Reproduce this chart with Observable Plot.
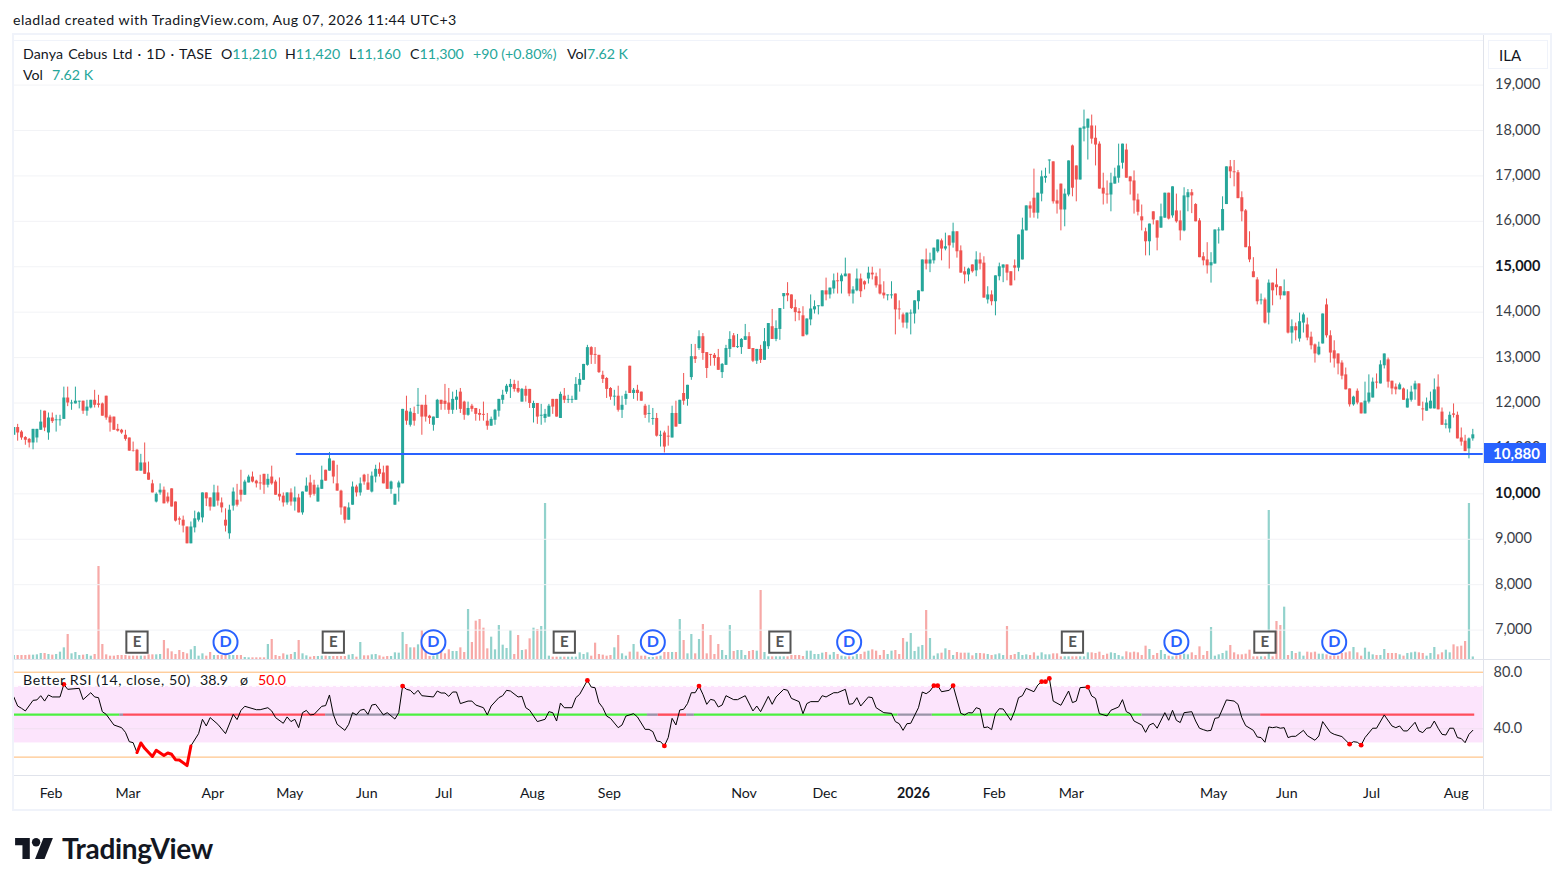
<!DOCTYPE html>
<html><head><meta charset="utf-8">
<script src="https://cdn.jsdelivr.net/npm/d3@7"></script>
<script src="https://cdn.jsdelivr.net/npm/@observablehq/plot@0.6"></script>
<style>
html,body{margin:0;padding:0;background:#fff;overflow:hidden}
body{width:1563px;height:885px;position:relative;font-family:Lato,"Noto Sans",sans-serif;color:#131722}
.layer{position:absolute;left:0;top:0}
.layer svg{display:block;background:transparent}
.t{position:absolute;white-space:nowrap;font-size:14.2px;line-height:18px}
.up{color:#26a69a}
.b{position:absolute;background:#e6e8ef}
</style></head><body>
<div id="vol" class="layer"></div>
<div id="main" class="layer"></div>
<div id="rsi" class="layer"></div>
<div class="b" style="left:13px;top:33px;width:1537px;height:2px;background:#f0f3fa"></div>
<div class="b" style="left:13px;top:40px;width:1471px;height:1px;background:#f0f3fa"></div>
<div class="b" style="left:12px;top:33px;width:2px;height:778px;background:#f0f3fa"></div>
<div class="b" style="left:1550px;top:33px;width:2px;height:778px;background:#f0f3fa"></div>
<div class="b" style="left:13px;top:809px;width:1537px;height:2px;background:#f0f3fa"></div>
<div class="b" style="left:1483px;top:35px;width:1px;height:774px;background:#e0e3eb"></div>
<div class="b" style="left:14px;top:659px;width:1536px;height:1px;background:#e0e3eb"></div>
<div class="b" style="left:14px;top:775px;width:1536px;height:1px;background:#e0e3eb"></div>
<div class="t" style="left:13px;top:11px;letter-spacing:.49px">eladlad created with TradingView.com, Aug 07, 2026 11:44 UTC+3</div>
<div class="t" style="left:23px;top:45px;letter-spacing:.1px;word-spacing:1.3px">Danya Cebus Ltd · 1D · TASE</div>
<div class="t" style="left:221px;top:45px">O<span class="up">11,210</span></div>
<div class="t" style="left:285px;top:45px">H<span class="up">11,420</span></div>
<div class="t" style="left:349px;top:45px">L<span class="up">11,160</span></div>
<div class="t" style="left:410px;top:45px">C<span class="up">11,300</span></div>
<div class="t up" style="left:473px;top:45px">+90 (+0.80%)</div>
<div class="t" style="left:567px;top:45px">Vol<span class="up">7.62 K</span></div>
<div class="t" style="left:23px;top:66px">Vol</div>
<div class="t up" style="left:52px;top:66px">7.62 K</div>
<div class="t" style="left:23px;top:671px;letter-spacing:.58px">Better RSI (14, close, 50)</div>
<div class="t" style="left:200px;top:671px">38.9</div>
<div class="t" style="left:240px;top:671px">ø</div>
<div class="t" style="left:258px;top:671px;color:#f00">50.0</div>
<div class="t" style="left:1488px;top:40px;width:60px;height:29px;box-sizing:border-box;border:1px solid #f0f3fa;line-height:28px;padding-left:10px;font-size:15px">ILA</div>
<div class="t" style="left:1484px;top:443px;width:62px;height:20px;background:#2962ff;color:#fff;line-height:20px;padding:0;text-align:center;font-size:15px;font-weight:700;text-indent:3px">10,880</div>
<svg style="position:absolute;left:15px;top:838px" width="38" height="21" viewBox="0 6 36 20"><path fill="#131722" d="M14 6H0v7h7v13h7V6Z"/><circle cx="20" cy="10" r="4" fill="#131722"/><path fill="#131722" d="M28 26h-9l8-20h9l-8 20Z"/></svg>
<div class="t" style="left:62px;top:833px;font-size:28px;line-height:30px;font-weight:700;letter-spacing:-.35px">TradingView</div>
<script>
const opens=[
11290,11460,11360,11240,11200,11120,11230,11400,11820,11340,
11670,11610,11610,11640,12110,11980,11980,12020,12040,11820,
11890,12060,11980,11980,12150,11690,11690,11420,11400,11290,
11230,10950,10960,10500,10680,10460,10220,9820,10020,10080,
9930,10110,9820,9450,9420,9270,8900,9250,9420,9470,
10020,9910,9710,10020,9800,9420,9120,9730,9860,10080,
9970,10240,10370,10280,10240,10430,10190,10370,10260,9990,
9950,9800,10020,9820,9910,9580,10040,10240,10190,9820,
10100,10520,10500,10720,10220,10060,9710,9420,9750,10150,
10020,10410,10240,10040,10370,10540,10460,10610,10100,9750,
10130,10220,11820,11510,11770,11930,11950,11950,11710,11510,
11660,12060,12040,12000,11840,12060,12240,12020,11730,11930,
11880,11770,11750,11600,11490,11620,11820,12060,12240,12340,
12410,12320,12020,12300,12300,11880,11990,11710,11660,11690,
12080,12080,11660,12150,12060,12060,12060,12390,12500,12830,
13220,13070,13050,12610,12540,12320,12130,12150,11840,12080,
12810,12210,12280,12240,11930,11750,11640,11660,11270,11340,
11270,11230,11770,11530,12210,12080,12560,13020,13200,13460,
13110,13070,13050,13000,12670,12830,13180,13480,13220,13220,
13380,13460,13200,12920,13180,12940,13240,13680,13400,13620,
14340,14410,14380,14100,14010,13920,13500,13830,14050,14120,
14120,14470,14380,14510,14690,14670,14780,14840,14400,14470,
14730,14670,14730,14860,14780,14600,14420,14360,14360,14400,
14070,13940,13760,13960,13960,14230,14450,15150,15060,15130,
15330,15570,15390,15680,15520,15770,15350,14890,14820,15040,
14910,15150,15080,14270,14380,14230,14780,14970,15040,14890,
15020,14970,15150,15790,16340,16510,16180,16600,16950,17330,
17310,16450,16820,16250,16580,17660,17220,16910,18030,18050,
18100,17830,17700,16730,16600,16580,16820,16950,17280,17570,
16980,16890,16470,16100,15770,15550,16210,16010,15850,16070,
16620,16120,16230,16010,15790,16520,16630,16370,16010,15220,
15150,15020,15060,15790,15790,16370,17200,17090,17070,16520,
16230,15440,14890,14710,14250,14270,13980,14640,14600,14560,
14360,14450,13540,13680,13410,13760,13720,13450,13280,13060,
13300,14160,13480,13150,13080,12880,12620,12310,11960,12260,
12000,11760,12020,12110,12460,12420,12820,12950,12480,12350,
12290,12310,11890,12060,12290,12420,11870,11820,11870,11870,
12350,11800,11510,11430,11760,11730,11230,11160,10990,11210];
const highs=[
11460,11530,11390,11260,11220,11420,11420,11840,11820,11780,
11780,11730,11730,12350,12350,12060,12350,12040,12040,12060,
12060,12280,12170,12000,12150,11730,11690,11530,11420,11400,
11230,11140,10980,10870,11120,10700,10300,10020,10220,10150,
10020,10110,9820,9490,9510,9270,9380,9620,9600,10020,
10020,9910,10190,10170,9910,9670,9750,10130,10210,10520,
10300,10410,10480,10300,10410,10430,10430,10610,10300,10350,
10020,10020,10110,10150,9990,10040,10350,10410,10300,10190,
10610,10520,10910,10720,10630,10080,9710,9800,10260,10190,
10350,10430,10430,10480,10630,10680,10610,10610,10280,9990,
10280,11860,12150,11880,11910,12320,11950,12170,11730,11690,
12080,12060,12410,12320,12240,12280,12320,12040,12020,11970,
11880,11860,12020,11770,11690,11860,12080,12280,12410,12520,
12500,12480,12320,12370,12300,12040,11990,11970,11860,11970,
12080,12080,12240,12320,12170,12150,12560,12650,12850,13270,
13240,13220,13050,12700,12560,12340,12280,12370,12150,12260,
12810,12320,12390,12240,11970,11950,11880,11770,11380,11380,
11490,11930,12040,12060,12650,12390,13290,13290,13590,13530,
13110,13070,13090,13180,12870,13270,13570,13530,13510,13420,
13730,13550,13200,13180,13270,13640,13750,14060,13810,14080,
14410,14650,14380,14270,14080,14120,13850,14380,14250,14140,
14470,14750,14530,14840,14860,14840,15190,14840,14560,14950,
14840,14690,14990,14990,14860,14950,14670,14380,14670,14400,
14250,13980,13980,14050,14250,14470,15150,15390,15300,15410,
15590,15610,15740,15680,15960,15770,15460,14990,14970,15040,
15330,15300,15220,14560,14470,14800,15080,15040,15040,14890,
15150,15700,16070,16340,16430,17150,16620,17110,17170,17350,
17310,16690,16820,16710,17330,17680,17220,18050,18450,18250,
18340,18100,17750,17060,16890,17060,17170,17700,17700,17700,
16980,17110,16600,16360,15850,15940,16210,16010,16380,16620,
16620,16760,16600,16230,16740,16700,16700,16390,16060,15310,
15530,15310,15810,15860,16540,17200,17340,17340,17120,16650,
16260,15770,15200,14760,14400,14310,14710,14640,14950,14560,
14710,14450,13830,13760,13980,13980,13870,13560,13300,13340,
13960,14290,13590,13370,13080,12930,12770,12310,12150,12310,
12000,12460,12620,12550,12640,12930,13080,12990,12480,12420,
12440,12330,12290,12370,12480,12420,12020,12110,12240,12530,
12620,11890,11630,11800,11980,11800,11450,11290,11230,11420];
const lows=[
11290,11160,11180,11070,11010,10970,11120,11400,11370,11180,
11550,11360,11490,11640,11920,11840,11980,11870,11750,11710,
11870,11890,11890,11710,11620,11360,11400,11360,11310,11160,
10940,10920,10500,10500,10430,10300,10020,9800,9970,9780,
9780,9710,9380,9310,9140,8900,8900,9140,9380,9360,
9720,9620,9710,9730,9580,9160,9000,9620,9710,9820,
9970,10240,10240,10130,10080,9990,10130,10190,9970,9840,
9710,9750,9730,9620,9580,9530,10040,9910,9950,9820,
10100,10280,10500,10220,10060,9530,9340,9420,9750,9930,
9950,10190,10080,10020,10240,10370,10220,10100,9990,9750,
9820,10220,11510,11470,11490,11750,11290,11580,11530,11380,
11660,11840,11840,11750,11750,11840,11770,11620,11710,11800,
11600,11600,11600,11400,11490,11510,11690,11970,12190,12100,
12240,12210,12020,12020,11880,11560,11530,11510,11560,11690,
11750,11690,11660,11990,11990,11990,12060,12240,12500,12810,
12850,12850,12650,12430,12100,12060,11930,11800,11660,11950,
12210,12080,12040,12040,11660,11560,11510,11250,11030,10900,
11050,11230,11470,11530,11950,11930,12500,12870,13160,12940,
12540,12810,12810,12720,12540,12830,13000,13220,13200,13070,
13380,13180,12890,12850,12870,12940,13180,13400,13350,13380,
14060,14230,14060,13790,13810,13460,13480,13700,13960,13940,
14120,14250,14290,14400,14400,14400,14780,14340,14180,14450,
14320,14490,14620,14710,14530,14380,14290,14250,14290,13500,
13830,13650,13630,13500,13740,14050,14450,14930,14870,15060,
15300,15130,15350,14950,15410,15190,14860,14620,14670,14860,
14780,14930,14310,14180,14140,13920,14690,14650,14690,14580,
14690,14890,15150,15790,16070,16070,16050,16430,16840,17040,
16380,16160,15790,15880,16540,16540,16430,16910,17750,17350,
17700,17220,16710,16360,16380,16210,16820,16840,17150,16950,
16580,16160,16120,15790,15240,15240,15920,15350,15850,16070,
16030,16070,15960,15570,15770,16210,16170,15990,15200,15020,
14840,14640,15060,15500,15790,16370,16940,16760,16500,15990,
15420,15090,14760,14160,14160,13740,13720,14140,14360,14270,
14360,13520,13300,13370,13340,13540,13370,13170,12880,13040,
13300,13430,12880,12770,12620,12510,12290,11910,11930,11960,
11760,11760,11980,12110,12310,12420,12750,12330,12180,12180,
12290,12060,11890,12020,12060,11930,11600,11820,11870,11870,
11850,11510,11430,11340,11670,11210,11050,10930,10770,11160];
const closes=[
11460,11340,11230,11180,11120,11420,11420,11580,11450,11670,
11590,11630,11630,12110,12000,12000,12040,12040,11820,11910,
12060,11950,11950,11710,11670,11560,11400,11380,11340,11200,
10940,10940,10500,10680,10430,10300,10020,9990,10080,9780,
9820,9710,9400,9420,9290,8900,9270,9450,9580,10020,
9890,9710,10020,9840,9690,9290,9640,10040,9750,9970,
10260,10370,10260,10220,10220,10190,10320,10220,9970,9930,
9800,10020,9820,9910,9580,10040,10170,9970,9990,10130,
10300,10280,10770,10370,10060,9690,9420,9690,10150,10020,
10220,10260,10080,10390,10540,10430,10220,10100,10260,9990,
10240,11860,11600,11800,11600,11950,11690,11690,11660,11690,
12060,11970,11970,11840,12080,12130,11860,11730,11880,11860,
11750,11730,11730,11490,11640,11840,12080,12170,12370,12410,
12300,12240,12300,12150,11990,11990,11690,11730,11750,11930,
11910,11690,12190,12060,12080,12080,12410,12520,12850,13220,
13050,13050,12670,12520,12300,12130,12150,11840,11950,12190,
12210,12280,12210,12040,11730,11770,11660,11270,11290,11030,
11250,11770,11470,12060,12040,12390,13020,12960,13460,13090,
12760,13050,12980,12720,12850,13200,13400,13220,13240,13400,
13460,13180,12920,13180,12940,13350,13750,13400,13640,14080,
14410,14360,14080,13990,13970,13460,13850,14070,14120,14140,
14470,14380,14530,14690,14670,14800,14840,14400,14490,14730,
14450,14600,14860,14820,14580,14400,14360,14380,14380,14050,
14050,13760,13980,13980,14250,14470,15150,15060,15150,15410,
15590,15390,15440,15460,15770,15330,14860,14820,14950,14890,
15150,15060,14310,14380,14230,14800,15000,15040,14860,14580,
14970,15700,15810,16340,16270,16180,16620,16980,16990,17350,
16430,16380,16250,16600,17330,16730,16910,18050,18080,18250,
17810,17680,16710,16600,16580,16840,16980,17220,17700,16950,
16870,16450,16200,16010,15550,15940,16030,15630,16100,16620,
16050,16760,15990,15790,16560,16630,16560,15990,15200,15130,
15020,15090,15810,15810,16260,17200,17090,17070,16500,16210,
15420,15150,14760,14230,14270,13760,14640,14470,14540,14360,
14450,13540,13680,13590,13790,13940,13430,13260,13080,13230,
13960,13480,13100,12970,12860,12590,12290,11960,12130,12000,
11760,12040,12220,12460,12440,12840,13080,12460,12310,12290,
12400,12060,12090,12240,12420,11930,11850,12000,12040,12290,
11850,11510,11540,11730,11730,11210,11140,10930,11210,11300];
const volumesK=[
12,12,12,12,13,13,14,18,18,15,
13,15,22,35,75,17,21,12,13,15,
10,15,279,45,14,10,10,12,12,12,
10,10,10,10,10,14,14,14,15,57,
32,23,15,27,21,17,29,39,10,17,
10,21,12,12,12,12,12,12,12,12,
6,5,5,5,5,5,45,60,12,9,
17,13,15,21,57,17,11,7,9,9,
10,10,9,9,9,9,9,13,15,7,
51,11,11,14,15,11,7,9,9,20,
19,81,45,35,35,44,87,32,9,9,
42,42,17,29,24,24,35,21,150,51,
115,120,94,32,67,29,102,43,33,87,
15,72,27,29,62,94,90,99,468,10,
7,7,7,7,7,7,7,20,15,20,
10,49,15,13,10,12,35,72,17,10,
22,45,22,10,10,6,6,8,10,21,
21,21,21,120,57,17,75,17,60,105,
17,72,15,45,27,12,102,24,27,27,
12,24,27,25,207,21,8,8,8,8,
8,8,12,12,12,9,25,25,15,15,
19,21,13,21,15,10,8,8,8,15,
15,22,25,29,25,12,27,15,25,27,
15,63,52,78,24,37,42,147,63,10,
17,19,32,27,12,21,19,19,19,11,
18,18,17,15,12,14,17,12,99,12,
15,21,12,14,12,20,10,20,14,14,
17,17,8,8,8,8,8,8,8,20,
20,18,22,12,16,20,18,12,8,23,
20,22,20,12,40,30,12,18,27,15,
10,8,10,13,16,14,20,12,38,12,
24,96,10,14,18,25,42,20,14,14,
16,28,8,8,8,8,447,8,114,102,
157,12,24,18,22,10,22,20,22,16,
16,14,10,10,10,18,20,23,36,20,
10,34,22,14,12,12,30,18,18,18,
14,10,18,20,22,20,18,10,18,36,
14,20,28,20,44,38,40,54,468,7.62];
const rsiAt=[
0,1,2,3,5,6,7,8,9,10,
12,13,14,17,18,20,21,22,23,24,
26,28,29,30,31,32,33,34,36,37,
39,40,41,42,43,45,46,48,49,50,
51,53,55,57,58,59,60,63,64,66,
67,68,70,71,72,73,74,75,76,77,
78,80,81,82,83,84,86,87,88,89,
90,91,92,93,94,96,97,99,100,101,
102,103,104,105,106,109,110,111,112,113,
114,115,116,118,119,120,122,123,124,126,
127,128,129,131,132,133,134,136,138,139,
140,141,142,143,145,146,147,149,150,151,
152,153,154,155,157,158,159,161,162,164,
165,166,167,168,169,170,171,172,173,174,
175,176,177,178,179,180,181,182,183,184,
185,187,188,190,192,193,194,196,197,198,
200,201,202,204,205,206,207,209,210,211,
213,214,216,217,218,219,220,222,223,224,
226,228,229,230,231,232,233,235,236,237,
238,239,240,241,243,244,246,247,248,249,
250,251,252,253,254,255,256,257,259,260,
261,262,263,265,266,267,268,269,270,272,
274,275,276,277,279,280,281,282,284,285,
287,288,289,290,291,293,294,295,296,297,
299,300,301,302,303,304,306,307,308,309,
310,311,312,313,315,317,318,319,320,322,
323,324,325,326,327,328,329,330,331,332,
333,335,336,338,339,340,342,343,345,347,
348,349,350,351,353,354,356,358,359,360,
361,362,364,365,366,367,368,369,370,371,
372,373,374,375,376,377,378,379];
const rsiVal=[
62.5,56.1,54.5,52.6,60.1,60.4,63.4,59.6,63.9,62.5,
62.5,71.4,67.9,68.6,60.6,65.5,62.5,62,52.1,50.2,
42.7,40.8,37.5,30.9,30.2,23.2,30,26.2,20.4,24.8,
21.1,22.9,22,18.2,18,14,27.9,36.6,46.7,42,
47.9,43.2,36.6,50.2,46.5,53,55.9,53.5,53.5,54.9,
52.6,47.9,43.9,48.4,45.1,46.7,40.8,51.4,53,49.8,
50.2,55.9,56.4,63.9,50.2,43.2,38.9,43.2,51.4,49.8,
53.1,53.8,50.2,56.8,57.3,49.8,51.4,46.9,51.4,70.2,
67.9,67.2,64.4,67.2,63.4,62.5,66.7,65.3,65.3,62.9,
66,66,57.8,59.6,59.6,56.8,54.9,49.8,56.1,62,
63.4,67.2,66.7,62.5,62.9,54.9,53.1,45.1,46.7,52.1,
51.4,45.5,58.2,54.9,54.9,62,64.4,74.2,69.5,69,
58.5,54.9,49,47.4,40.8,42.7,49,50.7,48.4,39.6,
39.6,38,31.4,30.9,27.9,33.8,47.4,42.7,53.3,53.8,
57.8,65.5,65.5,70.2,64.4,57.3,60.8,60.1,55.4,56.8,
63.4,60.6,60.6,63.4,52.6,56.1,52.1,62.9,57.3,62.5,
67.9,67.2,61.5,59.2,50.7,57.8,59.2,59.2,63.4,62.5,
65.5,65.5,67.9,57.3,57.8,62,56.1,62.5,62,54.9,
51.4,50.9,45.1,43.6,38.9,43.6,43.9,54.9,66,64.8,
66.7,70.5,70.5,66.2,67.2,70.5,50.9,49.8,51.4,51.2,
54.9,54,40.8,41.3,39.4,50.7,54.2,54,46,52.6,
62,63.4,68.6,66.2,70.9,73.3,73.3,75.6,59.6,56.6,
66.7,58.5,59.6,69.1,69.5,63.2,61.5,50.7,49.1,53.1,
55.4,60.6,52.1,50.7,45.5,42.7,37.5,42.7,43.9,40.4,
51.4,46,53.1,46,44.4,51.4,52.1,45.5,40.4,39.4,
38.5,38.9,47.4,47.9,60.4,59.6,57.3,47.9,42.2,38.9,
34.2,33.8,30.5,41.3,40.8,41.3,40.4,40.8,33.8,34.7,
34.7,38.9,35.2,31.9,34.9,45.1,37.5,36.1,34.5,29.1,
30.9,30.5,28.4,33.8,40.4,40.4,49.8,42,40.8,42,
38.5,38.5,44.6,38.5,37.3,40.4,40.8,45.5,40.4,36.1,
35.6,40.4,40.4,33.8,33.1,30.2,36.1,38.9];
const rsiOversoldRun=[32,33,34,36,37,39,40,41,42,43,45,46];
const rsiFlagged=[13,101,149,169,178,239,240,244,267,268,269,279,347,350];
const midStart=[0,27.5,28.5,81,100,164.6,167.4,174.8,176.8,229.7,238.6,293.1,323.9];
const midEnd=[27.5,28.5,81,100,164.6,167.4,174.8,176.8,229.7,238.6,293.1,323.9,379.5];
const midColor=["#4cf040","#9a94a8","#ff4d5c","#9a94a8","#4cf040","#9a94a8","#ff4d5c","#9a94a8","#4cf040","#9a94a8","#4cf040","#9a94a8","#ff4d5c"];
const priceTicks=[7000,8000,9000,10000,11000,12000,13000,14000,15000,16000,17000,18000,19000];
const boldPrices=[10000,15000];
const monthAt=[10,30,52,72,92,112,135,155,190,211,234,255,275,312,331,353,375];
const monthName=["Feb","Mar","Apr","May","Jun","Jul","Aug","Sep","Nov","Dec","2026","Feb","Mar","May","Jun","Jul","Aug"];
const earningsAt=[32,83,143,199,275,325];
const dividendAt=[55,109,166,217,302,343];
const markerPrice=6735;
const supportLevel=10880;
const supportFrom=73.4;

const candles=opens.map((o,i)=>({i,o,h:highs[i],l:lows[i],c:closes[i],v:volumesK[i],up:closes[i]>=o}));
const UP="#26a69a",DOWN="#ef5350";
const colorOf=d=>d.up?UP:DOWN;
const XD=[0,379],XR=[13.3,1472.3],EDGE=381.7;
const base={width:1563,height:885,marginLeft:14,marginRight:80,marginTop:0,marginBottom:0,style:{background:"transparent",fontFamily:'Lato,"Noto Sans",sans-serif',color:"#131722"}};
const x={type:"linear",domain:XD,range:XR};
const xHidden={...x,axis:null};

document.getElementById("vol").append(Plot.plot({...base,x:xHidden,
  y:{domain:[0,468],range:[659,503],axis:null},
  marks:[
    Plot.ruleX(candles,{x:"i",y1:0,y2:"v",stroke:colorOf,strokeOpacity:.5,strokeWidth:2.2})
  ]}));

document.getElementById("main").append(Plot.plot({...base,x:xHidden,
  y:{domain:[7000,19000],range:[629.6,84.6]},
  marks:[
    Plot.ruleY(priceTicks,{stroke:"#f2f3f6"}),
    Plot.ruleX(candles,{x:"i",y1:"l",y2:"h",stroke:colorOf,strokeWidth:1}),
    Plot.ruleX(candles,{x:"i",y1:"o",y2:"c",stroke:colorOf,strokeWidth:3}),
    Plot.ruleY([supportLevel],{x1:supportFrom,x2:EDGE,stroke:"#2962ff",strokeWidth:2}),
    Plot.axisY({anchor:"right",ticks:priceTicks.filter(d=>!boldPrices.includes(d)),tickSize:0,tickPadding:11.5,dy:-.6,tickFormat:d3.format(","),label:null,fontSize:14.5,fill:"#3b3f49"}),
    Plot.axisY({anchor:"right",ticks:boldPrices,tickSize:0,tickPadding:11.5,dy:-.6,tickFormat:d3.format(","),label:null,fontSize:14.5,fontWeight:700,fill:"#131722"}),
    Plot.dot(earningsAt,{x:d=>d,y:()=>markerPrice,symbol:"square",r:12,fill:"#fff",stroke:"#555",strokeWidth:2}),
    Plot.text(earningsAt,{x:d=>d,y:()=>markerPrice,text:()=>"E",fontSize:15,fontWeight:700,fill:"#555"}),
    Plot.dot(dividendAt,{x:d=>d,y:()=>markerPrice,r:12,fill:"#fff",stroke:"#2962ff",strokeWidth:2}),
    Plot.text(dividendAt,{x:d=>d,y:()=>markerPrice,text:()=>"D",fontSize:16,fontWeight:700,fill:"#2962ff"})
  ]}));

const rsiPts=rsiAt.map((i,k)=>({i,v:rsiVal[k]}));
const mids=midStart.map((s,k)=>({s,e:midEnd[k],c:midColor[k]}));
document.getElementById("rsi").append(Plot.plot({...base,x,marginBottom:110,
  y:{domain:[40,80],range:[728.3,671.7]},
  marks:[
    Plot.rect([0],{x1:()=>-0.2,x2:()=>EDGE,y1:()=>30,y2:()=>70,fill:"#fce4fc"}),
    Plot.ruleY([70],{stroke:"#fff",strokeDasharray:"4,3",strokeWidth:1}),
    Plot.ruleY([40],{stroke:"#f0dff0"}),
    Plot.ruleY([80,20],{stroke:"#ffb870"}),
    Plot.ruleY(mids,{y:()=>50,x1:"s",x2:"e",stroke:"c",strokeWidth:2.4}),
    Plot.line(rsiPts,{x:"i",y:"v",stroke:"#000",strokeWidth:1,curve:"linear"}),
    Plot.line(rsiPts.filter(d=>rsiOversoldRun.includes(d.i)),{x:"i",y:"v",stroke:"#f00",strokeWidth:3,curve:"linear"}),
    Plot.dot(rsiPts.filter(d=>rsiFlagged.includes(d.i)),{x:"i",y:"v",r:2.4,fill:"#f00"}),
    Plot.axisY({anchor:"right",ticks:[40,80],tickSize:0,tickPadding:10,tickFormat:d3.format(".1f"),label:null,fontSize:14.5,fill:"#3b3f49"}),
    Plot.axisX({anchor:"bottom",ticks:monthAt.filter((d,k)=>monthName[k]!=="2026"),tickSize:0,tickPadding:12,dx:-1.2,tickFormat:d=>monthName[monthAt.indexOf(d)],label:null,fontSize:14.2,fill:"#131722"}),
    Plot.axisX({anchor:"bottom",ticks:monthAt.filter((d,k)=>monthName[k]==="2026"),tickSize:0,tickPadding:12,dx:-1.2,tickFormat:d=>monthName[monthAt.indexOf(d)],label:null,fontSize:14.2,fontWeight:700,fill:"#131722"})
  ]}));
</script>
</body></html>
